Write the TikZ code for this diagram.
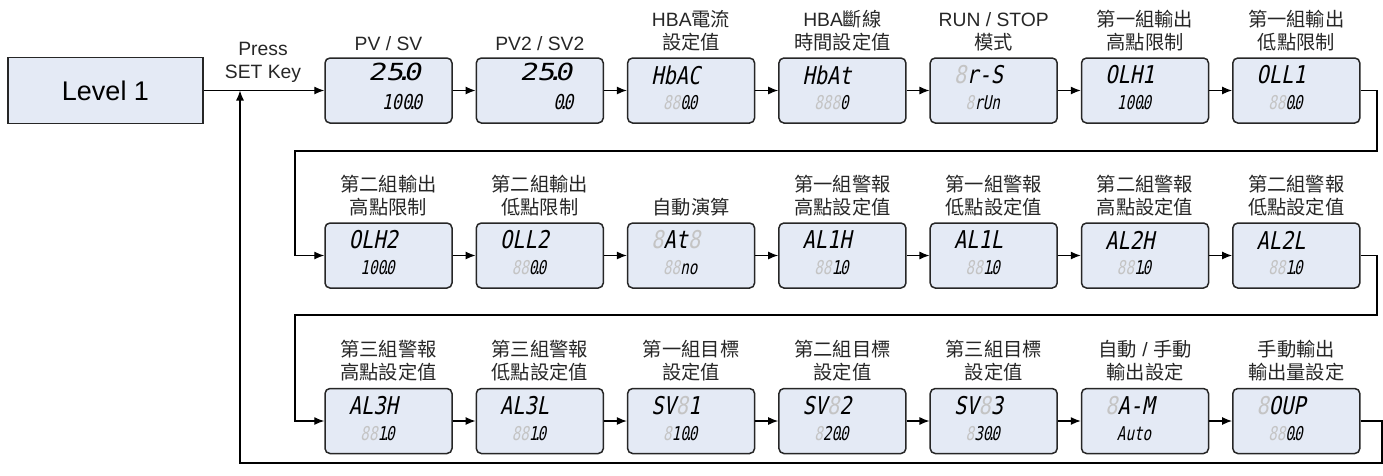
\documentclass[tikz,border=0pt]{standalone}
\usepackage{fontspec}
\setmainfont{Liberation Sans}
\newfontfamily\cjkf{Noto Sans CJK TC}
\newfontfamily\segA[FakeStretch=0.83,FakeSlant=0.2]{DejaVu Sans Mono}
\newfontfamily\segB[FakeStretch=0.75,FakeSlant=0.2]{DejaVu Sans Mono}
\newfontfamily\segC[FakeStretch=1.25,FakeSlant=0.2]{DejaVu Sans Mono}
\newfontfamily\segD[FakeStretch=0.82,FakeSlant=0.2]{DejaVu Sans Mono}
\usetikzlibrary{arrows.meta}
\definecolor{boxfill}{HTML}{E4EAF5}
\definecolor{boxline}{HTML}{262626}
\definecolor{ghost}{HTML}{C4C4C4}
\definecolor{lbltext}{HTML}{262626}
\newcommand\cj[1]{{\cjkf #1}}
\newcommand\gh{\textcolor{ghost}{8}}
\newcommand\dt{\makebox[0pt]{.}}
\tikzset{
  disp/.style={draw=boxline, line width=1.5pt, fill=boxfill, rounded corners=5pt,
    minimum width=127pt, minimum height=65pt, inner sep=0pt},
  lvl/.style={draw=boxline, line width=1.5pt, fill=boxfill,
    minimum width=195pt, minimum height=66pt, inner sep=0pt,
    font=\fontsize{27}{27}\selectfont},
  lbl/.style={anchor=south, inner sep=0pt, align=center, text=lbltext,
    font=\fontsize{19.3}{23}\selectfont},
  segt/.style={anchor=east, inner sep=0pt, font=\segA\fontsize{24.5}{24.5}\selectfont},
  segb/.style={anchor=east, inner sep=0pt, font=\segB\fontsize{19}{19}\selectfont},
  segtw/.style={anchor=east, inner sep=0pt, font=\segC\fontsize{23.5}{23.5}\selectfont},
  segbw/.style={anchor=east, inner sep=0pt, font=\segD\fontsize{20.5}{20.5}\selectfont},
  arr/.style={line width=1.2pt, -{Latex[length=10pt,width=8pt]}}
}
\newcommand\dbox[5]{%
  \node[disp] (#1) at #2 {};
  \node[lbl] (#1-l) at ([yshift=6pt]#1.north) {#3};
  \node[segt] (#1-t) at ([xshift=9.5pt,yshift=15.5pt]#1.center) {#4};
  \node[segb] (#1-b) at ([xshift=6.5pt,yshift=-12.5pt]#1.center) {#5};
}
\newcommand\wbox[5]{%
  \node[disp] (#1) at #2 {};
  \node[lbl] (#1-l) at ([yshift=6pt]#1.north) {#3};
  \node[segtw] (#1-t) at ([xshift=33pt,yshift=18.5pt]#1.center) {#4};
  \node[segbw] (#1-b) at ([xshift=34pt,yshift=-12pt]#1.center) {#5};
}
\begin{document}
\begin{tikzpicture}[x=1pt,y=-1pt]
\useasboundingbox (0,0) rectangle (1383,475);

\node[lvl] (lv) at (105.5,90.5) {Level 1};
\node[lbl, anchor=center] (press) at (263,62) {Press\\SET Key};

% Row 1
\wbox{b1}{(388.5,90.5)}{PV / SV}{25\dt0}{100\dt0}
\wbox{b2}{(539.8,90.5)}{PV2 / SV2}{25\dt0}{0\dt0}
\dbox{b3}{(691.1,90.5)}{HBA\cj{電流}\\\cj{設定值}}{HbAC}{\gh\gh0\dt0}
\dbox{b4}{(842.4,90.5)}{HBA\cj{斷線}\\\cj{時間設定值}}{HbAt}{\gh\gh\gh0}
\dbox{b5}{(993.7,90.5)}{RUN / STOP\\\cj{模式}}{\gh r-S}{\gh rUn}
\dbox{b6}{(1145.0,90.5)}{\cj{第一組輸出}\\\cj{高點限制}}{OLH1}{100\dt0}
\dbox{b7}{(1296.3,90.5)}{\cj{第一組輸出}\\\cj{低點限制}}{OLL1}{\gh\gh0\dt0}

% Row 2
\dbox{b8}{(388.5,255.5)}{\cj{第二組輸出}\\\cj{高點限制}}{OLH2}{100\dt0}
\dbox{b9}{(539.8,255.5)}{\cj{第二組輸出}\\\cj{低點限制}}{OLL2}{\gh\gh0\dt0}
\dbox{b10}{(691.1,255.5)}{\cj{自動演算}}{\gh At\gh}{\gh\gh no}
\dbox{b11}{(842.4,255.5)}{\cj{第一組警報}\\\cj{高點設定值}}{AL1H}{\gh\gh1\dt0}
\dbox{b12}{(993.7,255.5)}{\cj{第一組警報}\\\cj{低點設定值}}{AL1L}{\gh\gh1\dt0}
\dbox{b13}{(1145.0,255.5)}{\cj{第二組警報}\\\cj{高點設定值}}{AL2H}{\gh\gh1\dt0}
\dbox{b14}{(1296.3,255.5)}{\cj{第二組警報}\\\cj{低點設定值}}{AL2L}{\gh\gh1\dt0}

% Row 3
\dbox{b15}{(388.5,421)}{\cj{第三組警報}\\\cj{高點設定值}}{AL3H}{\gh\gh1\dt0}
\dbox{b16}{(539.8,421)}{\cj{第三組警報}\\\cj{低點設定值}}{AL3L}{\gh\gh1\dt0}
\dbox{b17}{(691.1,421)}{\cj{第一組目標}\\\cj{設定值}}{SV\gh1}{\gh10\dt0}
\dbox{b18}{(842.4,421)}{\cj{第二組目標}\\\cj{設定值}}{SV\gh2}{\gh20\dt0}
\dbox{b19}{(993.7,421)}{\cj{第三組目標}\\\cj{設定值}}{SV\gh3}{\gh30\dt0}
\dbox{b20}{(1145.0,421)}{\cj{自動} / \cj{手動}\\\cj{輸出設定}}{\gh A-M}{Auto}
\dbox{b21}{(1296.3,421)}{\cj{手動輸出}\\\cj{輸出量設定}}{\gh OUP}{\gh\gh0\dt0}

% routing points
\coordinate (t1) at (1377,151);
\coordinate (t2) at (295,151);
\coordinate (t3) at (1377,315);
\coordinate (t4) at (295,315);
\coordinate (t5) at (1382,463);
\coordinate (t6) at (240,463);
\coordinate (j) at (240,90.5);

\draw[arr] (lv.east) -- (b1.west);
\foreach \a/\b in {b1/b2,b2/b3,b3/b4,b4/b5,b5/b6,b6/b7,
                   b8/b9,b9/b10,b10/b11,b11/b12,b12/b13,b13/b14,
                   b15/b16,b16/b17,b17/b18,b18/b19,b19/b20,b20/b21}
  \draw[arr] (\a.east) -- (\b.west);
\draw[arr] (b7.east) -| (t1) -- (t2) |- (b8.west);
\draw[arr] (b14.east) -| (t3) -- (t4) |- (b15.west);
\draw[arr] (b21.east) -| (t5) -- (t6) -- (j);
\end{tikzpicture}
\end{document}
